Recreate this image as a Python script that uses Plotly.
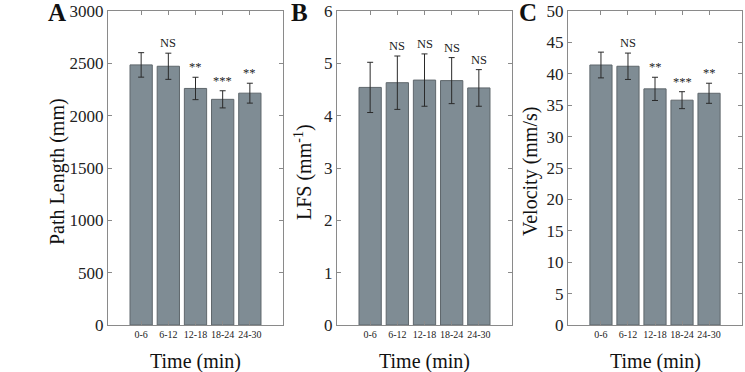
import plotly.graph_objects as go

categories = ["0-6", "6-12", "12-18", "18-24", "24-30"]

path_length = [2485, 2472, 2260, 2156, 2215]
path_length_err = [117, 125, 107, 82, 95]
path_length_sig = ["", "NS", "**", "***", "**"]

lfs = [4.54, 4.63, 4.68, 4.67, 4.53]
lfs_err = [0.48, 0.51, 0.50, 0.44, 0.35]
lfs_sig = ["", "NS", "NS", "NS", "NS"]

velocity = [41.4, 41.2, 37.6, 35.8, 36.9]
velocity_err = [2.05, 2.1, 1.85, 1.35, 1.6]
velocity_sig = ["", "NS", "**", "***", "**"]

W, H = 745, 372
FONT = "Liberation Serif, Times New Roman, serif"
BAR_FILL = "#7f8c94"
BAR_LINE = "#5f676c"
AX_COLOR = "#8a8a8a"

panels = [
    dict(vals=path_length, err=path_length_err, sig=path_length_sig,
         xpx=(108, 283), yrange=[0, 3000], dtick=500,
         ytitle="Path Length (mm)", ytitle_x=57, letter="A", letter_x=57),
    dict(vals=lfs, err=lfs_err, sig=lfs_sig,
         xpx=(337, 512), yrange=[0, 6], dtick=1,
         ytitle="LFS (mm<sup>-1</sup>)", ytitle_x=303, letter="B", letter_x=299),
    dict(vals=velocity, err=velocity_err, sig=velocity_sig,
         xpx=(568, 742), yrange=[0, 50], dtick=5,
         ytitle="Velocity (mm/s)", ytitle_x=530, letter="C", letter_x=528),
]

top_px, bot_px = 11, 325
ydom = [1 - bot_px / H, 1 - top_px / H]

fig = go.Figure()
annotations = []
layout_axes = {}

for i, p in enumerate(panels):
    n = i + 1
    xa = "x" if n == 1 else f"x{n}"
    ya = "y" if n == 1 else f"y{n}"
    fig.add_trace(go.Bar(
        x=categories, y=p["vals"], xaxis=xa, yaxis=ya,
        width=0.82,
        marker=dict(color=BAR_FILL, line=dict(color=BAR_LINE, width=1)),
        error_y=dict(type="data", array=p["err"], visible=True,
                     color="#2a2a2a", thickness=1, width=3),
        showlegend=False,
    ))
    xkey = "xaxis" if n == 1 else f"xaxis{n}"
    ykey = "yaxis" if n == 1 else f"yaxis{n}"
    layout_axes[xkey] = dict(
        domain=[p["xpx"][0] / W, p["xpx"][1] / W], anchor=ya,
        type="category", range=[-1.22, 5.22],
        showline=True, linecolor=AX_COLOR, linewidth=1, mirror="ticks",
        ticks="inside", ticklen=4, tickcolor=AX_COLOR,
        tickfont=dict(family=FONT, size=10, color="#222"),
        showgrid=False, zeroline=False, ticklabelstandoff=0, automargin=False,
    )
    layout_axes[ykey] = dict(
        domain=ydom, anchor=xa, range=p["yrange"], dtick=p["dtick"],
        showline=True, linecolor=AX_COLOR, linewidth=1, mirror="ticks",
        ticks="inside", ticklen=4, tickcolor=AX_COLOR,
        tickfont=dict(family=FONT, size=17, color="#222"),
        showgrid=False, zeroline=False, ticklabelstandoff=0, automargin=False,
    )
    for c, v, e, s in zip(categories, p["vals"], p["err"], p["sig"]):
        if s:
            annotations.append(dict(
                x=c, y=v + e, xref=xa, yref=ya, text=s, showarrow=False,
                yanchor="bottom", yshift=1,
                font=dict(family=FONT, size=12.5, color="#222"),
            ))
    annotations.append(dict(
        x=p["ytitle_x"] / W, y=1 - 172 / H, xref="paper", yref="paper",
        text=p["ytitle"], textangle=-90, showarrow=False,
        xanchor="center", yanchor="middle",
        font=dict(family=FONT, size=20, color="#111"),
    ))
    annotations.append(dict(
        x=(p["xpx"][0] + p["xpx"][1]) / 2 / W, y=1 - 361 / H,
        xref="paper", yref="paper", text="Time (min)", showarrow=False,
        xanchor="center", yanchor="middle",
        font=dict(family=FONT, size=20, color="#111"),
    ))
    annotations.append(dict(
        x=p["letter_x"] / W, y=1 - 13 / H, xref="paper", yref="paper",
        text=f"<b>{p['letter']}</b>", showarrow=False,
        xanchor="center", yanchor="middle",
        font=dict(family=FONT, size=25, color="#111"),
    ))

fig.update_layout(
    width=W, height=H, autosize=False,
    margin=dict(l=0, r=0, t=0, b=0, pad=0),
    paper_bgcolor="white", plot_bgcolor="white",
    annotations=annotations,
    **layout_axes,
)

fig.write_html("out.html", config={"responsive": False, "displayModeBar": False},
               post_script="document.body.style.margin='0';document.body.style.overflow='hidden';")
